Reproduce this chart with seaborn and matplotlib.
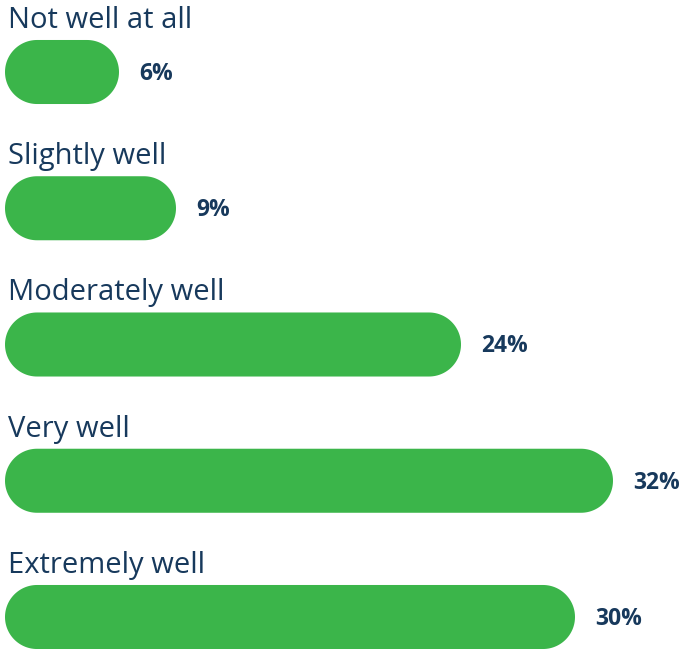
import matplotlib
matplotlib.use("Agg")
import numpy as np
import matplotlib.pyplot as plt
import seaborn as sns
import pandas as pd
from matplotlib.patches import PathPatch
from matplotlib.path import Path

categories = ["Not well at all", "Slightly well", "Moderately well", "Very well", "Extremely well"]
values = [6, 9, 24, 32, 30]
value_labels = [f"{v}%" for v in values]

GREEN = "#3BB54A"
NAVY = "#17395C"

sns.set_theme(style="white")
plt.rcParams["font.family"] = ["Open Sans", "DejaVu Sans"]

W, H = 684, 649
fig = plt.figure(figsize=(W / 100, H / 100), dpi=100)
ax = fig.add_axes([0, 0, 1, 1])

df = pd.DataFrame({"category": categories, "value": values})
sns.barplot(data=df, x="value", y="category", orient="h", color=GREEN,
            saturation=1, width=0.47, ax=ax)

# pixel-based scaling so rounded caps stay circular
px_per_pct = 19.0
x0_px = 5
row_px = 136.25
first_center_px = 72
ax.set_xlim(-x0_px / px_per_pct, (W - x0_px) / px_per_pct)
top = -first_center_px / row_px
ax.set_ylim(top + H / row_px, top)
ax.axis("off")


def pill_path(x, y, w, h):
    """Stadium outline (semicircular ends) in data units."""
    ry = h / 2
    rx = ry * row_px / px_per_pct
    rx = min(rx, w / 2)
    cy = y + h / 2
    t = np.linspace(-np.pi / 2, np.pi / 2, 60)
    right = np.column_stack([x + w - rx + rx * np.cos(t), cy + ry * np.sin(t)])
    left = np.column_stack([x + rx - rx * np.cos(t), cy - ry * np.sin(t)])
    verts = np.vstack([right, left, right[:1]])
    codes = [Path.MOVETO] + [Path.LINETO] * (len(verts) - 2) + [Path.CLOSEPOLY]
    return Path(verts, codes)


for bar in list(ax.patches):
    p = pill_path(bar.get_x(), bar.get_y(), bar.get_width(), bar.get_height())
    bar.remove()
    ax.add_patch(PathPatch(p, fc=GREEN, ec="none"))

bar_h = 0.47
for i, (cat, v, lab) in enumerate(zip(categories, values, value_labels)):
    ax.text(3 / px_per_pct, i - bar_h / 2 - 12 / row_px, cat,
            ha="left", va="baseline", fontsize=21, color=NAVY)
    ax.text(v + 20 / px_per_pct, i + 2 / row_px, lab,
            ha="left", va="center", fontsize=16.5, fontweight="bold", color=NAVY)

fig.savefig("out.png", dpi=100)
